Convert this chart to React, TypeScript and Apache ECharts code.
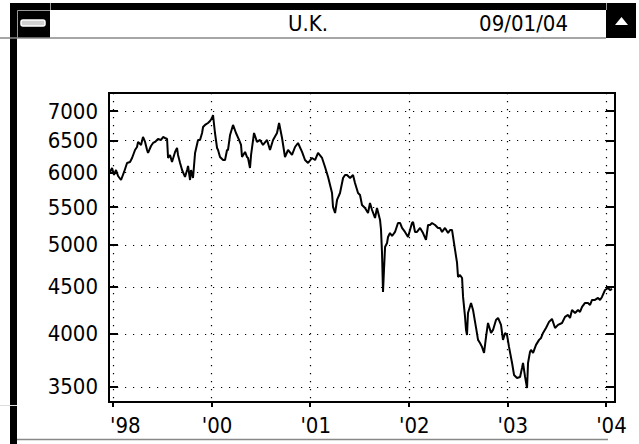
import React, { useEffect, useRef } from "react";
import * as echarts from "echarts";

// ---- data ----
const dates: number[] = [
  1998.97, 1998.99, 1999.01, 1999.03, 1999.051, 1999.081, 1999.112, 1999.142, 1999.172, 1999.193,
  1999.223, 1999.243, 1999.254, 1999.284, 1999.304, 1999.325, 1999.345, 1999.355, 1999.385, 1999.406,
  1999.426, 1999.456, 1999.487, 1999.507, 1999.527, 1999.548, 1999.558, 1999.578, 1999.598, 1999.629,
  1999.649, 1999.659, 1999.68, 1999.7, 1999.73, 1999.751, 1999.761, 1999.781, 1999.791, 1999.811,
  1999.822, 1999.832, 1999.862, 1999.882, 1999.903, 1999.913, 1999.933, 1999.963, 1999.984, 2000.004,
  2000.014, 2000.034, 2000.055, 2000.065, 2000.085, 2000.116, 2000.136, 2000.156, 2000.166, 2000.187,
  2000.217, 2000.247, 2000.278, 2000.298, 2000.308, 2000.339, 2000.359, 2000.369, 2000.389, 2000.4,
  2000.43, 2000.46, 2000.491, 2000.521, 2000.562, 2000.592, 2000.623, 2000.663, 2000.684, 2000.714,
  2000.744, 2000.775, 2000.815, 2000.846, 2000.876, 2000.917, 2000.947, 2000.978, 2001.018, 2001.049,
  2001.079, 2001.12, 2001.15, 2001.181, 2001.201, 2001.221, 2001.231, 2001.252, 2001.272, 2001.302,
  2001.333, 2001.353, 2001.373, 2001.404, 2001.434, 2001.454, 2001.485, 2001.505, 2001.525, 2001.556,
  2001.586, 2001.606, 2001.627, 2001.657, 2001.677, 2001.708, 2001.718, 2001.728, 2001.738, 2001.748,
  2001.759, 2001.779, 2001.789, 2001.809, 2001.83, 2001.86, 2001.89, 2001.911, 2001.931, 2001.961,
  2001.992, 2002.012, 2002.032, 2002.043, 2002.063, 2002.083, 2002.114, 2002.144, 2002.174, 2002.195,
  2002.215, 2002.235, 2002.266, 2002.296, 2002.316, 2002.337, 2002.367, 2002.398, 2002.418, 2002.438,
  2002.458, 2002.489, 2002.499, 2002.519, 2002.54, 2002.55, 2002.57, 2002.58, 2002.59, 2002.6,
  2002.631, 2002.651, 2002.682, 2002.702, 2002.722, 2002.742, 2002.763, 2002.783, 2002.803, 2002.834,
  2002.854, 2002.884, 2002.905, 2002.935, 2002.955, 2002.976, 2002.996, 2003.016, 2003.047, 2003.067,
  2003.097, 2003.128, 2003.148, 2003.158, 2003.179, 2003.199, 2003.209, 2003.229, 2003.239, 2003.26,
  2003.29, 2003.321, 2003.341, 2003.361, 2003.391, 2003.422, 2003.452, 2003.483, 2003.513, 2003.554,
  2003.584, 2003.615, 2003.635, 2003.655, 2003.686, 2003.716, 2003.736, 2003.757, 2003.787, 2003.817,
  2003.838, 2003.858, 2003.888, 2003.919, 2003.939, 2003.959, 2003.99, 2004.02, 2004.041, 2004.061,
];

const values: number[] = [
  6006, 6067, 5961, 6036, 5946, 5886, 6006, 6143, 6158, 6221,
  6347, 6395, 6477, 6428, 6558, 6477, 6347, 6300, 6411, 6460,
  6477, 6525, 6509, 6558, 6541, 6525, 6221, 6268, 6158, 6316,
  6379, 6268, 6143, 6036, 5931, 6036, 6097, 5886, 6036, 5916,
  6112, 6300, 6509, 6509, 6624, 6725, 6759, 6792, 6826, 6878,
  6930, 6624, 6379, 6347, 6236, 6189, 6189, 6347, 6347, 6591,
  6759, 6624, 6509, 6428, 6236, 6316, 6236, 6221, 6067, 6268,
  6624, 6477, 6509, 6428, 6509, 6347, 6509, 6624, 6792, 6541,
  6236, 6347, 6268, 6395, 6460, 6316, 6189, 6143, 6221, 6189,
  6300, 6221, 6082, 5931, 5813, 5697, 5500, 5418, 5598, 5697,
  5916, 5961, 5961, 5916, 5961, 5843, 5697, 5669, 5528, 5487,
  5418, 5556, 5459, 5350, 5487, 5324, 5192, 4900, 4443, 4695,
  4975, 5025, 5101, 5152, 5114, 5166, 5284, 5284, 5218, 5166,
  5101, 5192, 5284, 5297, 5166, 5166, 5218, 5152, 5063, 5257,
  5257, 5284, 5257, 5218, 5218, 5166, 5218, 5152, 5192, 5192,
  5025, 4779, 4613, 4637, 4602, 4388, 4173, 4039, 3988, 4215,
  4322, 4247, 4059, 3939, 3909, 3870, 3812, 3968, 4110, 4008,
  4039, 4141, 4162, 4090, 3939, 4008, 3988, 3870, 3717, 3607,
  3580, 3589, 3671, 3717, 3589, 3491, 3717, 3822, 3841, 3812,
  3890, 3939, 3958, 4008, 4059, 4121, 4152, 4059, 4090, 4110,
  4173, 4194, 4162, 4247, 4215, 4247, 4225, 4279, 4322, 4322,
  4300, 4355, 4355, 4377, 4355, 4388, 4465, 4488, 4465, 4477,
];

const xTickYears: number[] = [1999, 2000, 2001, 2002, 2003, 2004];
const xTickLabels: string[] = ["'98", "'00", "'01", "'02", "'03", "'04"];
const yTickValues: number[] = [3500, 4000, 4500, 5000, 5500, 6000, 6500, 7000];

const titleText = "U.K.";
const dateText = "09/01/04";

const FONT = '"DejaVu Sans Condensed", "DejaVu Sans", sans-serif';

export default function App() {
  const ref = useRef<HTMLDivElement>(null);

  useEffect(() => {
    if (!ref.current) return;
    const chart = echarts.init(ref.current, null, { renderer: "svg" });

    const yMin = Math.log(3370);
    const yMax = Math.log(7324);
    const xMin = 1998.959;
    const xMax = 2004.091;
    const lnTicks = yTickValues.map((v) => Math.log(v));
    const labelPos = xTickYears.map((y, i) => (i === 0 ? y - 0.03 : y - 0.1));

    const dotted = { color: "#000", width: 1.2, type: [1.2, 6.8] as any };

    const option: any = {
      animation: false,
      backgroundColor: "#fff",
      grid: {
        left: 109,
        right: 24,
        top: 93,
        bottom: 42,
        show: true,
        borderColor: "#000",
        borderWidth: 2,
        backgroundColor: "#fff",
      },
      xAxis: [
        {
          type: "value",
          min: xMin,
          max: xMax,
          axisLine: { show: true, onZero: false, lineStyle: { color: "#000", width: 2 } },
          axisTick: {
            show: true,
            customValues: xTickYears,
            inside: false,
            length: 5,
            lineStyle: { color: "#000", width: 2 },
          },
          axisLabel: {
            show: true,
            customValues: labelPos,
            align: "left",
            margin: 12,
            color: "#000",
            fontFamily: FONT,
            fontSize: 22,
            formatter: (v: number) => {
              const i = xTickYears.findIndex((y) => Math.abs(y - v) < 0.2);
              return i >= 0 ? xTickLabels[i] : "";
            },
          },
          splitLine: { show: true, lineStyle: dotted },
        },
      ],
      yAxis: [
        {
          type: "value",
          position: "left",
          min: yMin,
          max: yMax,
          axisLine: { show: true, lineStyle: { color: "#000", width: 2 } },
          axisTick: {
            show: true,
            customValues: lnTicks,
            inside: true,
            length: 9,
            lineStyle: { color: "#000", width: 2 },
          },
          axisLabel: {
            show: true,
            customValues: lnTicks,
            margin: 11,
            color: "#000",
            fontFamily: FONT,
            fontSize: 22,
            formatter: (v: number) => String(Math.round(Math.exp(v))),
          },
          splitLine: { show: true, lineStyle: dotted },
        },
        {
          type: "value",
          position: "right",
          min: yMin,
          max: yMax,
          axisLine: { show: true, lineStyle: { color: "#000", width: 2 } },
          axisTick: {
            show: true,
            customValues: lnTicks,
            inside: true,
            length: 9,
            lineStyle: { color: "#000", width: 2 },
          },
          axisLabel: { show: false },
          splitLine: { show: false },
        },
      ],
      series: [
        {
          type: "line",
          xAxisIndex: 0,
          yAxisIndex: 0,
          data: dates.map((d, i) => [d, Math.log(values[i])]),
          showSymbol: false,
          symbol: "none",
          silent: true,
          lineStyle: { color: "#000", width: 2 },
          z: 3,
        },
      ],
      graphic: [
        { type: "rect", shape: { x: 10, y: 3, width: 626, height: 7 }, style: { fill: "#000" } },
        { type: "rect", shape: { x: 10, y: 3, width: 40, height: 35 }, style: { fill: "#000" } },
        { type: "rect", shape: { x: 10, y: 37, width: 7, height: 407 }, style: { fill: "#000" } },
        { type: "rect", shape: { x: 606, y: 3, width: 30, height: 35 }, style: { fill: "#000" } },
        { type: "line", shape: { x1: 50.5, y1: 3, x2: 50.5, y2: 10 }, style: { stroke: "#999", lineWidth: 1 } },
        { type: "line", shape: { x1: 606.5, y1: 3, x2: 606.5, y2: 10 }, style: { stroke: "#999", lineWidth: 1 } },
        {
          type: "polyline",
          shape: { points: [[17.5, 38], [17.5, 10.5], [50, 10.5]] },
          style: { stroke: "#999", lineWidth: 1, fill: null },
        },
        { type: "line", shape: { x1: 0, y1: 38, x2: 606, y2: 38 }, style: { stroke: "#888", lineWidth: 1.5 } },
        {
          type: "rect",
          shape: { x: 21, y: 20, width: 24, height: 6, r: 2 },
          style: { fill: "#d0d0d0", stroke: "#fff", lineWidth: 1.5 },
        },
        { type: "polygon", shape: { points: [[615, 25], [628, 25], [621.5, 17]] }, style: { fill: "#fff" } },
        {
          type: "text",
          x: 308,
          y: 23,
          style: { text: titleText, fill: "#000", font: `22px ${FONT}`, textAlign: "center", textVerticalAlign: "middle" },
        },
        {
          type: "text",
          x: 568,
          y: 23,
          style: { text: dateText, fill: "#000", font: `22px ${FONT}`, textAlign: "right", textVerticalAlign: "middle" },
        },
        { type: "line", shape: { x1: 17, y1: 439.5, x2: 608, y2: 439.5 }, style: { stroke: "#888", lineWidth: 1.5 } },
        { type: "line", shape: { x1: 0, y1: 405.5, x2: 17, y2: 405.5 }, style: { stroke: "#ddd", lineWidth: 1 } },
      ],
    };

    chart.setOption(option);
    return () => chart.dispose();
  }, []);

  return <div ref={ref} style={{ position: "absolute", left: 0, top: 0, width: 639, height: 444 }} />;
}
